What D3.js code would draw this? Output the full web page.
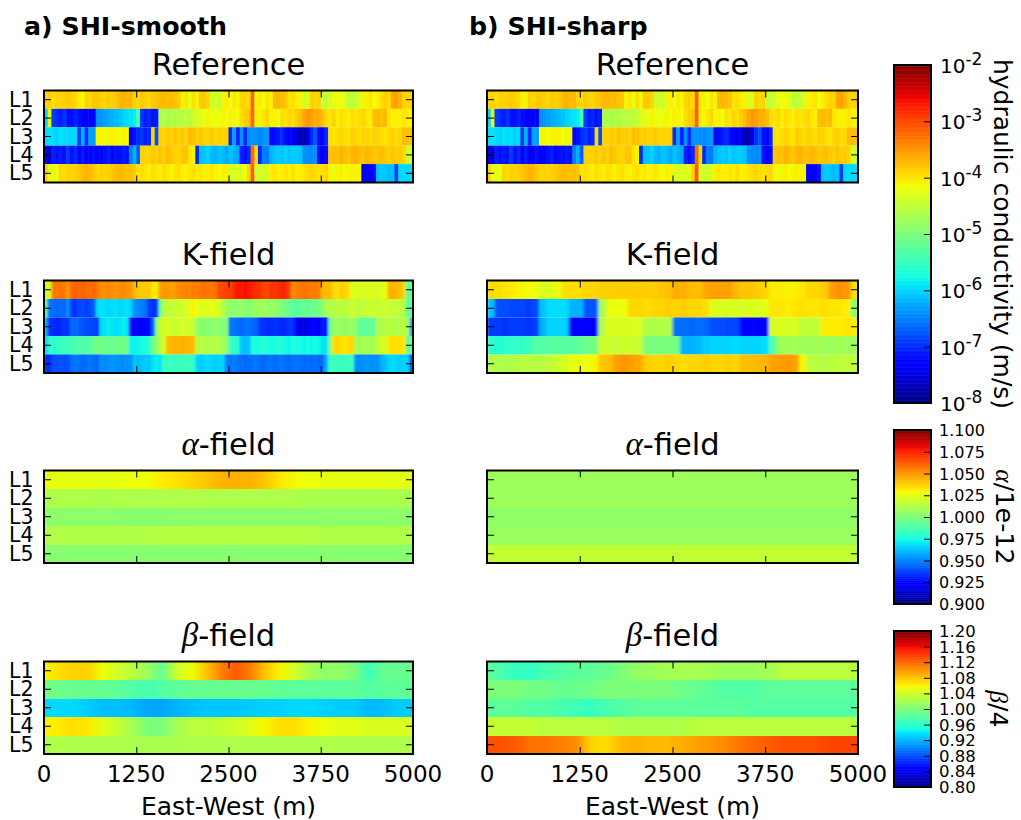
<!DOCTYPE html>
<html>
<head>
<meta charset="utf-8">
<style>
  html, body { margin: 0; background: #fff; }
  text { font-family: "DejaVu Sans", sans-serif; fill: #000; }
</style>
<script src="https://cdn.jsdelivr.net/npm/d3@7"></script>
</head>
<body>
<div id="chart-area"></div>
<script>
const layers = ["L1", "L2", "L3", "L4", "L5"];
const xTicks = [0, 1250, 2500, 3750, 5000];
const kTicks = [-8, -7, -6, -5, -4, -3, -2];
const alphaTicks = [0.9, 0.925, 0.95, 0.975, 1.0, 1.025, 1.05, 1.075, 1.1];
const betaTicks = [0.8, 0.84, 0.88, 0.92, 0.96, 1.0, 1.04, 1.08, 1.12, 1.16, 1.2];

// log10 of K, 100 columns across 5000 m
const refL1 = [-3.9,-3.87,-3.95,-3.87,-3.9,-3.87,-3.82,-3.87,-3.9,-4.05,-4.1,-3.87,-3.9,-3.82,-3.82,-3.87,-3.9,-3.82,-3.87,-3.82,-3.7,-3.66,-3.72,-3.7,-3.87,-3.9,-3.82,-3.87,-3.9,-3.82,-3.78,-3.72,-3.7,-3.75,-3.72,-3.78,-3.82,-4.1,-4.0,-4.2,-3.95,-4.1,-3.82,-3.82,-3.9,-4.4,-4.35,-4.45,-4.1,-4.05,-4.15,-4.0,-4.1,-3.9,-3.87,-3.95,-3.15,-4.1,-4.05,-4.15,-4.0,-4.1,-3.72,-3.7,-3.75,-3.78,-4.0,-3.95,-4.05,-4.1,-4.35,-4.3,-3.87,-3.9,-3.87,-4.5,-4.45,-4.4,-4.2,-4.15,-4.2,-4.25,-4.55,-4.5,-4.45,-4.3,-4.1,-4.05,-4.0,-4.15,-4.05,-3.95,-3.87,-3.9,-3.6,-3.55,-3.68,-3.87,-3.9,-3.87];
const refL2 = [-6.0,-4.2,-6.9,-7.0,-7.1,-6.95,-7.15,-7.2,-7.05,-7.2,-7.25,-7.3,-7.35,-7.4,-6.4,-6.35,-6.3,-6.25,-6.2,-6.15,-6.1,-6.0,-5.95,-5.9,-5.85,-5.4,-6.9,-7.1,-7.0,-7.15,-7.1,-4.65,-4.6,-4.7,-4.6,-4.65,-4.55,-4.6,-4.5,-4.55,-4.45,-4.3,-4.25,-4.2,-4.1,-4.2,-4.15,-4.2,-4.1,-4.15,-4.05,-4.1,-4.15,-3.95,-3.85,-3.8,-3.15,-4.05,-4.1,-4.0,-3.9,-4.1,-4.05,-4.2,-3.95,-4.0,-3.9,-3.95,-3.85,-3.75,-3.6,-3.5,-3.55,-3.65,-3.65,-3.75,-3.95,-4.0,-3.9,-4.05,-3.95,-4.0,-4.05,-3.95,-4.0,-3.95,-3.9,-4.0,-4.05,-3.75,-3.72,-3.78,-3.72,-4.0,-4.05,-4.1,-4.05,-4.0,-4.05,-4.1];
const refL3 = [-5.95,-5.9,-5.95,-6.0,-5.9,-5.95,-5.95,-6.0,-5.95,-6.9,-6.2,-7.0,-6.3,-6.3,-4.1,-4.1,-4.15,-4.1,-4.05,-4.1,-4.15,-4.1,-4.1,-7.3,-7.2,-7.0,-6.9,-7.1,-7.0,-3.9,-6.8,-3.87,-3.9,-3.82,-3.87,-3.78,-3.87,-3.82,-3.9,-3.75,-3.78,-3.87,-3.82,-3.9,-3.87,-3.82,-3.9,-3.87,-3.9,-3.87,-7.0,-6.3,-7.1,-6.4,-7.0,-6.4,-6.35,-6.4,-6.45,-6.4,-6.35,-7.3,-7.2,-7.1,-7.0,-7.2,-7.25,-7.4,-7.5,-7.7,-7.75,-7.5,-7.0,-6.75,-7.2,-7.3,-7.0,-3.95,-4.0,-3.95,-3.9,-3.95,-4.0,-3.87,-3.9,-3.95,-3.87,-3.9,-3.95,-3.87,-3.9,-3.95,-4.0,-3.9,-3.87,-3.95,-3.9,-3.75,-3.75,-3.75];
const refL4 = [-7.5,-7.6,-7.1,-7.15,-7.1,-7.2,-6.9,-7.2,-7.0,-7.25,-7.1,-7.25,-7.3,-7.2,-7.25,-7.3,-7.2,-7.1,-7.25,-7.15,-7.2,-7.1,-7.15,-6.5,-6.2,-6.7,-3.87,-3.9,-3.87,-3.82,-3.87,-3.78,-3.87,-3.75,-3.82,-3.87,-3.9,-3.82,-3.78,-4.0,-4.1,-7.0,-6.1,-6.1,-6.0,-6.15,-6.2,-6.1,-6.15,-6.25,-6.1,-6.2,-6.25,-7.1,-7.2,-7.0,-3.2,-3.9,-7.0,-6.5,-6.55,-6.2,-6.1,-6.05,-6.1,-6.0,-6.1,-6.05,-6.05,-6.1,-6.4,-6.4,-6.45,-6.4,-7.2,-7.25,-7.2,-3.78,-3.75,-3.78,-3.68,-3.75,-3.82,-3.7,-3.68,-3.75,-3.78,-3.7,-3.75,-3.82,-3.78,-3.75,-3.82,-3.87,-3.78,-3.87,-3.82,-3.9,-4.4,-4.4];
const refL5 = [-3.87,-4.2,-4.25,-4.15,-3.9,-3.95,-3.87,-3.9,-3.87,-3.82,-3.72,-3.68,-3.72,-3.82,-3.9,-3.87,-3.9,-3.87,-3.82,-3.75,-3.72,-3.75,-3.78,-3.75,-3.82,-4.0,-3.95,-4.0,-4.05,-3.95,-4.0,-4.05,-3.95,-4.0,-4.1,-4.0,-3.95,-4.05,-4.1,-4.0,-3.95,-4.05,-4.0,-4.1,-4.05,-4.0,-4.1,-4.15,-4.05,-4.1,-4.3,-4.35,-4.25,-4.3,-4.2,-3.9,-3.1,-4.4,-4.35,-4.4,-4.3,-4.05,-4.0,-4.1,-4.05,-4.0,-4.05,-3.95,-4.1,-4.05,-4.0,-3.95,-3.9,-3.95,-4.0,-3.95,-3.9,-4.1,-4.2,-4.1,-4.05,-4.15,-4.1,-4.05,-4.1,-4.1,-7.3,-7.35,-7.3,-7.2,-6.1,-6.05,-6.1,-6.15,-6.1,-6.9,-5.95,-5.95,-6.0,-5.95];

const kSmoothL1 = [-4.4,-4.3,-3.3,-3.3,-3.25,-3.3,-3.5,-3.2,-3.15,-3.2,-3.15,-3.2,-3.25,-3.2,-3.3,-3.45,-3.45,-3.4,-3.45,-3.5,-3.45,-3.4,-3.45,-3.5,-3.7,-3.8,-3.85,-3.8,-3.8,-4.0,-4.05,-3.55,-3.5,-3.5,-3.55,-3.5,-3.45,-3.4,-3.35,-3.4,-3.3,-3.35,-3.3,-3.25,-3.3,-3.3,-3.25,-3.0,-3.0,-2.95,-2.95,-2.75,-2.7,-2.7,-2.65,-2.7,-2.75,-2.8,-2.85,-2.95,-3.0,-2.85,-2.9,-2.8,-2.75,-2.8,-3.0,-3.45,-3.3,-3.3,-3.25,-3.3,-3.35,-3.3,-3.35,-3.7,-3.75,-3.7,-3.9,-3.95,-3.85,-3.9,-3.95,-4.3,-4.25,-4.3,-4.35,-4.3,-4.3,-4.35,-4.3,-4.25,-4.2,-3.7,-3.65,-3.7,-3.75,-3.9,-5.2,-5.25];
const kSmoothL2 = [-5.3,-6.6,-6.6,-6.65,-6.6,-6.65,-6.4,-6.9,-6.95,-6.85,-6.8,-6.9,-6.85,-6.7,-5.95,-5.9,-5.95,-6.0,-5.95,-5.9,-6.0,-5.95,-5.9,-6.0,-6.4,-6.45,-6.5,-6.6,-6.9,-6.95,-6.9,-5.2,-4.55,-4.5,-4.5,-4.45,-4.4,-4.4,-4.35,-4.15,-4.1,-4.2,-4.3,-4.25,-4.3,-4.2,-4.3,-4.35,-4.6,-4.8,-4.85,-4.9,-4.85,-4.8,-4.9,-4.95,-4.85,-4.8,-4.7,-4.75,-4.8,-4.85,-4.8,-4.9,-5.0,-5.05,-5.2,-5.2,-5.25,-5.2,-5.15,-5.2,-5.15,-5.1,-5.05,-4.9,-4.6,-4.65,-4.6,-4.55,-4.6,-4.55,-4.5,-4.45,-4.5,-4.55,-4.5,-4.45,-4.4,-4.45,-4.5,-4.45,-4.4,-4.5,-4.5,-4.45,-4.5,-4.55,-5.2,-5.3];
const kSmoothL3 = [-6.2,-7.0,-7.0,-7.05,-7.0,-6.95,-7.0,-6.6,-6.65,-6.7,-6.75,-6.8,-6.85,-6.85,-6.9,-5.95,-5.9,-5.85,-5.9,-5.95,-5.9,-5.85,-5.9,-7.3,-7.35,-7.4,-7.35,-7.3,-7.25,-6.7,-4.9,-4.45,-4.4,-4.35,-4.4,-4.45,-4.4,-4.35,-4.4,-4.4,-4.45,-4.85,-4.9,-4.9,-4.95,-4.9,-4.85,-4.9,-4.95,-4.9,-6.6,-6.55,-6.6,-6.65,-6.6,-6.55,-6.65,-6.7,-6.9,-6.95,-7.0,-7.0,-6.95,-7.0,-7.05,-7.0,-6.95,-7.0,-7.4,-7.45,-7.5,-7.4,-7.35,-7.3,-7.25,-7.1,-7.2,-5.2,-4.8,-4.75,-4.8,-4.85,-4.8,-4.8,-4.85,-5.2,-5.25,-5.2,-5.15,-5.2,-4.6,-4.65,-4.6,-4.55,-4.6,-4.65,-4.6,-4.55,-4.6,-6.2];
const kSmoothL4 = [-6.0,-5.55,-5.6,-5.55,-5.5,-5.45,-5.5,-5.4,-5.35,-5.3,-5.35,-5.3,-5.3,-5.1,-5.1,-5.05,-5.1,-5.15,-5.1,-5.1,-5.05,-5.1,-5.1,-5.8,-5.85,-5.8,-5.75,-5.7,-5.6,-5.0,-4.9,-4.5,-4.4,-3.75,-3.7,-3.65,-3.7,-3.65,-3.7,-3.7,-3.75,-4.6,-4.55,-4.6,-4.65,-4.6,-4.6,-4.65,-4.7,-4.85,-5.5,-5.55,-5.6,-6.1,-6.15,-6.1,-5.7,-5.75,-5.7,-5.65,-5.7,-5.75,-5.7,-5.65,-5.7,-5.75,-5.8,-5.75,-5.7,-5.75,-5.8,-5.75,-5.8,-5.75,-5.8,-5.9,-5.9,-5.0,-3.95,-3.9,-3.95,-4.0,-3.95,-3.9,-4.7,-4.75,-4.7,-4.65,-4.7,-4.75,-4.4,-4.35,-4.4,-4.0,-3.95,-4.0,-3.95,-4.0,-5.2,-5.2];
const kSmoothL5 = [-7.0,-7.0,-6.8,-6.8,-6.75,-6.8,-6.8,-6.6,-6.55,-6.6,-6.65,-6.6,-6.55,-6.6,-6.65,-6.4,-6.45,-6.4,-6.35,-6.4,-6.4,-6.45,-6.4,-6.4,-6.1,-6.15,-6.1,-6.05,-6.1,-5.9,-5.85,-5.9,-5.5,-5.45,-5.5,-5.55,-5.5,-5.45,-5.5,-5.5,-5.55,-6.0,-6.05,-6.0,-5.95,-6.0,-6.05,-6.0,-6.0,-6.5,-6.55,-6.5,-6.55,-6.6,-6.65,-6.6,-6.6,-6.55,-6.6,-6.65,-6.6,-6.55,-6.65,-6.6,-6.55,-6.6,-6.65,-6.6,-6.55,-6.6,-6.65,-6.6,-6.65,-6.6,-6.65,-6.6,-6.2,-5.5,-5.45,-5.5,-5.55,-5.5,-5.45,-5.5,-6.4,-6.45,-6.4,-6.35,-6.4,-6.4,-6.4,-6.2,-6.15,-6.0,-5.95,-6.0,-6.05,-6.0,-6.0,-6.8];

// sharp case K has wider columns, 50 across 5000 m
const kSharpL1 = [-3.95,-3.95,-4.0,-4.05,-4.1,-4.15,-4.15,-4.3,-4.3,-4.2,-3.95,-3.95,-3.95,-3.9,-3.9,-3.85,-3.85,-3.85,-3.85,-3.85,-3.85,-3.85,-3.85,-3.8,-3.75,-3.65,-3.65,-3.75,-3.75,-3.6,-3.55,-3.55,-3.55,-3.7,-3.8,-3.8,-3.85,-3.9,-4.05,-4.05,-4.1,-4.05,-4.0,-3.9,-3.9,-3.85,-3.55,-3.45,-3.5,-3.95];
const kSharpL2 = [-6.1,-6.8,-6.8,-6.85,-6.85,-6.9,-6.85,-6.1,-5.95,-5.95,-5.95,-6.2,-6.2,-6.75,-6.75,-4.7,-4.2,-4.2,-4.15,-3.9,-3.9,-3.95,-3.9,-3.9,-3.85,-3.9,-3.85,-3.9,-3.9,-3.95,-4.3,-4.3,-4.35,-4.3,-4.35,-4.3,-4.3,-4.25,-4.0,-4.0,-4.05,-4.0,-3.95,-4.0,-4.0,-3.95,-4.0,-4.0,-4.05,-4.9];
const kSharpL3 = [-6.9,-6.9,-6.95,-6.9,-6.9,-6.95,-6.9,-6.2,-6.0,-6.0,-6.0,-7.3,-7.3,-7.35,-7.3,-4.6,-4.3,-4.3,-4.35,-4.3,-4.3,-4.6,-4.65,-4.6,-4.6,-6.6,-6.6,-6.65,-6.6,-6.65,-6.8,-6.8,-6.85,-6.85,-7.25,-7.3,-7.35,-7.3,-4.3,-4.3,-4.35,-4.3,-4.5,-4.5,-4.5,-4.05,-4.05,-4.05,-4.0,-4.05];
const kSharpL4 = [-5.6,-5.65,-5.6,-5.55,-5.55,-5.5,-5.3,-5.3,-5.3,-5.25,-5.3,-5.25,-5.2,-5.1,-5.05,-4.4,-4.4,-4.45,-4.4,-4.4,-4.45,-5.0,-5.05,-5.0,-5.0,-5.05,-6.2,-6.2,-6.15,-6.05,-6.0,-6.0,-6.0,-5.95,-6.0,-6.0,-6.0,-5.95,-5.3,-4.75,-4.75,-4.7,-4.75,-4.75,-4.7,-4.75,-4.75,-4.7,-4.75,-4.75];
const kSharpL5 = [-4.6,-4.6,-4.65,-4.6,-4.6,-4.55,-4.6,-4.55,-4.5,-4.4,-4.35,-4.2,-4.2,-4.15,-4.1,-3.8,-3.75,-3.55,-3.5,-3.55,-3.6,-3.85,-3.9,-3.9,-3.85,-3.9,-3.95,-3.9,-3.9,-3.85,-3.9,-3.9,-3.85,-3.9,-3.75,-3.75,-3.7,-3.7,-3.55,-3.55,-3.5,-3.55,-4.1,-4.55,-4.55,-4.6,-4.55,-4.55,-4.5,-4.55];

// alpha and beta: 26 samples, one every 200 m, drawn as smooth ramps
const alphaSmoothL1 = [1.026,1.026,1.026,1.026,1.026,1.026,1.027,1.028,1.032,1.034,1.037,1.04,1.044,1.045,1.044,1.04,1.033,1.029,1.027,1.026,1.026,1.026,1.026,1.026,1.025,1.025];
const alphaSmoothL2 = [1.012,1.012,1.012,1.012,1.011,1.012,1.012,1.012,1.012,1.012,1.013,1.012,1.012,1.012,1.012,1.012,1.012,1.012,1.011,1.011,1.011,1.011,1.011,1.011,1.011,1.011];
const alphaSmoothL3 = [1.004,1.004,1.004,1.004,1.004,1.004,1.003,1.003,1.003,1.004,1.004,1.004,1.004,1.004,1.004,1.004,1.004,1.004,1.004,1.004,1.004,1.004,1.004,1.004,1.004,1.004];
const alphaSmoothL4 = [1.013,1.013,1.013,1.013,1.013,1.013,1.013,1.013,1.014,1.014,1.014,1.014,1.014,1.014,1.014,1.014,1.014,1.014,1.014,1.013,1.013,1.013,1.013,1.013,1.013,1.013];
const alphaSmoothL5 = [1.003,1.003,1.003,1.003,1.003,1.003,1.003,1.003,1.003,1.003,1.003,1.003,1.003,1.003,1.003,1.003,1.003,1.003,1.003,1.003,1.003,1.003,1.003,1.003,1.003,1.003];

const alphaSharpL1 = [1.008,1.008,1.008,1.008,1.008,1.008,1.008,1.008,1.008,1.008,1.008,1.008,1.008,1.008,1.008,1.008,1.008,1.008,1.008,1.008,1.008,1.008,1.008,1.008,1.008,1.008];
const alphaSharpL2 = [1.008,1.008,1.008,1.008,1.008,1.008,1.008,1.008,1.008,1.008,1.008,1.008,1.008,1.008,1.008,1.008,1.008,1.008,1.008,1.008,1.008,1.008,1.008,1.008,1.008,1.008];
const alphaSharpL3 = [1.005,1.005,1.005,1.005,1.005,1.005,1.005,1.005,1.005,1.005,1.005,1.005,1.005,1.005,1.005,1.005,1.005,1.005,1.005,1.005,1.005,1.005,1.005,1.005,1.005,1.005];
const alphaSharpL4 = [1.007,1.007,1.007,1.007,1.007,1.007,1.007,1.007,1.007,1.007,1.007,1.007,1.007,1.007,1.007,1.007,1.007,1.007,1.007,1.007,1.007,1.007,1.007,1.007,1.007,1.007];
const alphaSharpL5 = [1.017,1.017,1.017,1.017,1.017,1.017,1.017,1.017,1.017,1.017,1.017,1.017,1.017,1.017,1.017,1.017,1.017,1.017,1.017,1.017,1.017,1.017,1.017,1.017,1.017,1.017];

const betaSmoothL1 = [1.06,1.07,1.075,1.075,1.055,1.04,1.03,1.015,0.99,1.04,1.055,1.08,1.11,1.125,1.11,1.08,1.06,1.04,1.02,1.01,1.01,1.0,0.97,0.99,0.99,0.99];
const betaSmoothL2 = [0.995,0.995,0.99,0.99,0.99,0.985,0.98,0.975,0.98,0.985,0.99,0.99,0.99,0.99,0.99,0.99,0.985,0.985,0.985,0.985,0.985,0.985,0.98,0.985,0.985,0.985];
const betaSmoothL3 = [0.935,0.935,0.935,0.93,0.925,0.925,0.922,0.915,0.915,0.92,0.925,0.928,0.928,0.928,0.93,0.932,0.932,0.935,0.935,0.932,0.93,0.93,0.922,0.925,0.93,0.93];
const betaSmoothL4 = [1.06,1.065,1.07,1.065,1.05,1.035,1.02,1.0,1.0,1.02,1.03,1.03,1.035,1.04,1.05,1.06,1.07,1.07,1.06,1.055,1.05,1.05,1.045,1.045,1.045,1.045];
const betaSmoothL5 = [1.024,1.024,1.024,1.024,1.024,1.024,1.023,1.022,1.022,1.023,1.024,1.024,1.024,1.024,1.024,1.024,1.024,1.024,1.024,1.024,1.024,1.024,1.024,1.024,1.024,1.024];

const betaSharpL1 = [0.985,0.975,0.965,0.965,0.975,0.98,0.985,0.985,0.99,1.0,1.01,1.015,1.02,1.02,1.02,1.02,1.015,1.015,1.015,1.02,1.03,1.03,1.03,1.03,1.03,1.03];
const betaSharpL2 = [1.0,1.0,1.0,0.995,0.995,0.99,0.99,0.995,1.0,1.0,1.0,1.0,1.0,0.995,0.99,0.985,0.98,0.98,0.98,0.985,0.985,0.985,0.985,0.985,0.985,0.985];
const betaSharpL3 = [0.985,0.985,0.985,0.98,0.98,0.975,0.97,0.965,0.975,0.98,0.985,0.985,0.985,0.985,0.985,0.985,0.985,0.985,0.98,0.98,0.98,0.98,0.98,0.98,0.98,0.98];
const betaSharpL4 = [1.035,1.035,1.035,1.035,1.03,1.03,1.03,1.03,1.03,1.025,1.025,1.025,1.025,1.025,1.03,1.03,1.03,1.03,1.03,1.03,1.03,1.03,1.03,1.03,1.03,1.03];
const betaSharpL5 = [1.13,1.13,1.125,1.115,1.115,1.11,1.105,1.075,1.07,1.085,1.09,1.085,1.085,1.09,1.095,1.1,1.105,1.115,1.12,1.125,1.13,1.13,1.13,1.135,1.135,1.135];

var svg = d3.select("#chart-area").append("svg")
    .attr("width", 1021)
    .attr("height", 820)
    .style("display", "block");
var defs = svg.append("defs");

// matplotlib jet, one scale per channel
var jetR = d3.scaleLinear().domain([0, 0.35, 0.66, 0.89, 1]).range([0, 0, 1, 1, 0.5]).clamp(true);
var jetG = d3.scaleLinear().domain([0, 0.125, 0.375, 0.64, 0.91, 1]).range([0, 0, 1, 1, 0, 0]).clamp(true);
var jetB = d3.scaleLinear().domain([0, 0.11, 0.34, 0.65, 1]).range([0.5, 1, 1, 0, 0]).clamp(true);
function jet(t) {
    return d3.rgb(jetR(t) * 255, jetG(t) * 255, jetB(t) * 255).formatHex();
}

var kNorm = d3.scaleLinear().domain([-8, -2]).range([0, 1]);
var alphaNorm = d3.scaleLinear().domain([0.9, 1.1]).range([0, 1]);
var betaNorm = d3.scaleLinear().domain([0.8, 1.2]).range([0, 1]);

var columnX = [[44, 413], [487, 858]];
var rowY = [[90.5, 182.5], [280.5, 373], [470.5, 563], [661.5, 754]];
var blurWidth = {cells: 0.7, streaks: 1.1, wide: 1.6};

// greek letters come out in an italic serif, like the mathtext in the original
function addTitle(sel, greek, rest) {
    if (greek) {
        sel.append("tspan")
            .style("font-family", "'Liberation Serif', serif")
            .style("font-style", "italic")
            .style("font-size", "33px")
            .text(greek);
    }
    sel.append("tspan").text(rest);
}

var panelCount = 0;
function drawPanel(col, row, rows, norm, mode, title, greek) {
    var id = "p" + (panelCount++);
    var x = d3.scaleLinear().domain([0, 5000]).range(columnX[col]);
    var y = d3.scaleBand().domain(layers).range(rowY[row]);
    var g = svg.append("g").attr("class", id);

    if (mode == "ramp") {
        rows.forEach(function(values, r) {
            var grad = defs.append("linearGradient").attr("id", id + "-" + r);
            grad.selectAll("stop").data(values).enter().append("stop")
                .attr("offset", function(d, i) { return i / (values.length - 1); })
                .attr("stop-color", function(d) { return jet(norm(d)); });
            g.append("rect")
                .attr("x", x(0))
                .attr("y", y(layers[r]))
                .attr("width", x(5000) - x(0))
                .attr("height", y.bandwidth())
                .attr("shape-rendering", "crispEdges")
                .attr("fill", "url(#" + id + "-" + r + ")");
        });
    } else {
        var filter = defs.append("filter").attr("id", id + "-blur")
            .attr("filterUnits", "userSpaceOnUse")
            .attr("x", x(0)).attr("y", y.range()[0])
            .attr("width", x(5000) - x(0)).attr("height", y.range()[1] - y.range()[0]);
        filter.append("feGaussianBlur")
            .attr("stdDeviation", blurWidth[mode] + " 0.4")
            .attr("edgeMode", "duplicate");
        var cells = g.append("g").attr("filter", "url(#" + id + "-blur)");
        rows.forEach(function(values, r) {
            var dx = 5000 / values.length;
            cells.selectAll(".r" + r).data(values).enter().append("rect")
                .attr("class", "r" + r)
                .attr("x", function(d, i) { return x(i * dx); })
                .attr("y", y(layers[r]))
                .attr("width", x(dx) - x(0) + 0.5)
                .attr("height", y.bandwidth())
                .attr("fill", function(d) { return jet(norm(d)); });
        });
    }

    // ticks point inward on all four sides
    var bottom = y.range()[1], top = y.range()[0];
    var ticks = [
        [d3.axisBottom(x).tickValues(xTicks), bottom],
        [d3.axisTop(x).tickValues(xTicks), top]
    ];
    ticks.forEach(function(t) {
        var a = g.append("g")
            .attr("transform", "translate(0," + t[1] + ")")
            .call(t[0].tickSizeInner(-7).tickSizeOuter(0).tickFormat(""));
        a.select(".domain").remove();
        a.selectAll("line").attr("stroke", "#000");
    });
    [[d3.axisLeft(y), x(0)], [d3.axisRight(y), x(5000)]].forEach(function(t) {
        var a = g.append("g")
            .attr("transform", "translate(" + t[1] + ",0)")
            .call(t[0].tickSizeInner(-7).tickSizeOuter(0).tickFormat(""));
        a.select(".domain").remove();
        a.selectAll("line").attr("stroke", "#000");
    });

    g.append("rect")
        .attr("x", x(0))
        .attr("y", top)
        .attr("width", x(5000) - x(0))
        .attr("height", bottom - top)
        .attr("fill", "none")
        .attr("stroke", "#000")
        .attr("stroke-width", 2);

    var titleText = g.append("text")
        .attr("x", (x(0) + x(5000)) / 2)
        .attr("y", top - 16)
        .attr("text-anchor", "middle")
        .attr("font-size", "30.5px");
    addTitle(titleText, greek, title);

    if (col == 0) {
        g.selectAll(".lay").data(layers).enter().append("text")
            .attr("class", "lay")
            .attr("x", 33.5)
            .attr("y", function(d) { return y(d) + y.bandwidth() / 2 + 7; })
            .attr("text-anchor", "end")
            .attr("font-size", "20.5px")
            .text(function(d) { return d; });
    }

    if (row == 3) {
        g.selectAll(".xlab").data(xTicks).enter().append("text")
            .attr("class", "xlab")
            .attr("x", function(d) { return x(d); })
            .attr("y", 782)
            .attr("text-anchor", "middle")
            .attr("font-size", "23px")
            .text(function(d) { return d; });
        g.append("text")
            .attr("x", (x(0) + x(5000)) / 2)
            .attr("y", 815)
            .attr("text-anchor", "middle")
            .attr("font-size", "25px")
            .text("East-West (m)");
    }
}

var refRows = [refL1, refL2, refL3, refL4, refL5];
drawPanel(0, 0, refRows, kNorm, "cells", "Reference");
drawPanel(1, 0, refRows, kNorm, "cells", "Reference");
drawPanel(0, 1, [kSmoothL1, kSmoothL2, kSmoothL3, kSmoothL4, kSmoothL5], kNorm, "streaks", "K-field");
drawPanel(1, 1, [kSharpL1, kSharpL2, kSharpL3, kSharpL4, kSharpL5], kNorm, "wide", "K-field");
drawPanel(0, 2, [alphaSmoothL1, alphaSmoothL2, alphaSmoothL3, alphaSmoothL4, alphaSmoothL5], alphaNorm, "ramp", "-field", "α");
drawPanel(1, 2, [alphaSharpL1, alphaSharpL2, alphaSharpL3, alphaSharpL4, alphaSharpL5], alphaNorm, "ramp", "-field", "α");
drawPanel(0, 3, [betaSmoothL1, betaSmoothL2, betaSmoothL3, betaSmoothL4, betaSmoothL5], betaNorm, "ramp", "-field", "β");
drawPanel(1, 3, [betaSharpL1, betaSharpL2, betaSharpL3, betaSharpL4, betaSharpL5], betaNorm, "ramp", "-field", "β");

svg.append("text").attr("x", 24).attr("y", 35)
    .attr("font-size", "25.3px").attr("font-weight", "bold").text("a) SHI-smooth");
svg.append("text").attr("x", 469).attr("y", 35)
    .attr("font-size", "25.3px").attr("font-weight", "bold").text("b) SHI-sharp");

// colorbars
function drawColorbar(y0, y1, norm, tickVals) {
    var y = d3.scaleLinear().domain(norm.domain()).range([y1, y0]);
    var g = svg.append("g");
    var steps = d3.range(256);
    var d0 = norm.domain()[0], d1 = norm.domain()[1];
    var stepSize = (d1 - d0) / 256;
    g.selectAll("rect.step").data(steps).enter().append("rect")
        .attr("class", "step")
        .attr("x", 894)
        .attr("y", function(d) { return y(d0 + (d + 1) * stepSize); })
        .attr("width", 37)
        .attr("height", (y1 - y0) / 256 + 0.5)
        .attr("fill", function(d) { return jet((d + 0.5) / 256); });

    var axis = g.append("g")
        .attr("transform", "translate(931,0)")
        .call(d3.axisRight(y).tickValues(tickVals).tickSizeInner(-7).tickSizeOuter(0).tickFormat(""));
    axis.select(".domain").remove();
    axis.selectAll("line").attr("stroke", "#000");

    g.append("rect")
        .attr("x", 894).attr("y", y0)
        .attr("width", 37).attr("height", y1 - y0)
        .attr("fill", "none").attr("stroke", "#000").attr("stroke-width", 2);

    return {g: g, y: y};
}

var kBar = drawColorbar(65, 403, kNorm, kTicks);
kTicks.forEach(function(t) {
    var label = kBar.g.append("text")
        .attr("x", 940)
        .attr("y", kBar.y(t) + 8)
        .attr("font-size", "20px");
    label.append("tspan").text("10");
    label.append("tspan").attr("dy", -8).attr("font-size", "17px").text(t);
});

var alphaBar = drawColorbar(430, 604, alphaNorm, alphaTicks);
alphaBar.g.selectAll(".tl").data(alphaTicks).enter().append("text")
    .attr("class", "tl")
    .attr("x", 939)
    .attr("y", function(d) { return alphaBar.y(d) + 6; })
    .attr("font-size", "16px")
    .text(function(d) { return d3.format(".3f")(d); });

var betaBar = drawColorbar(631, 787, betaNorm, betaTicks);
betaBar.g.selectAll(".tl").data(betaTicks).enter().append("text")
    .attr("class", "tl")
    .attr("x", 939)
    .attr("y", function(d) { return betaBar.y(d) + 6; })
    .attr("font-size", "16.5px")
    .text(function(d) { return d3.format(".2f")(d); });

function barLabel(x, y, greek, rest, size) {
    var t = svg.append("text")
        .attr("transform", "translate(" + x + "," + y + ") rotate(90)")
        .attr("text-anchor", "middle")
        .attr("font-size", size + "px");
    if (greek) {
        t.append("tspan")
            .style("font-family", "'Liberation Serif', serif")
            .style("font-style", "italic")
            .text(greek);
    }
    t.append("tspan").text(rest);
}
barLabel(994, 234, null, "hydraulic conductivity (m/s)", 25);
barLabel(996, 517, "α", "/1e-12", 25.5);
barLabel(990, 709, "β", "/4", 25);
</script>
</body>
</html>
